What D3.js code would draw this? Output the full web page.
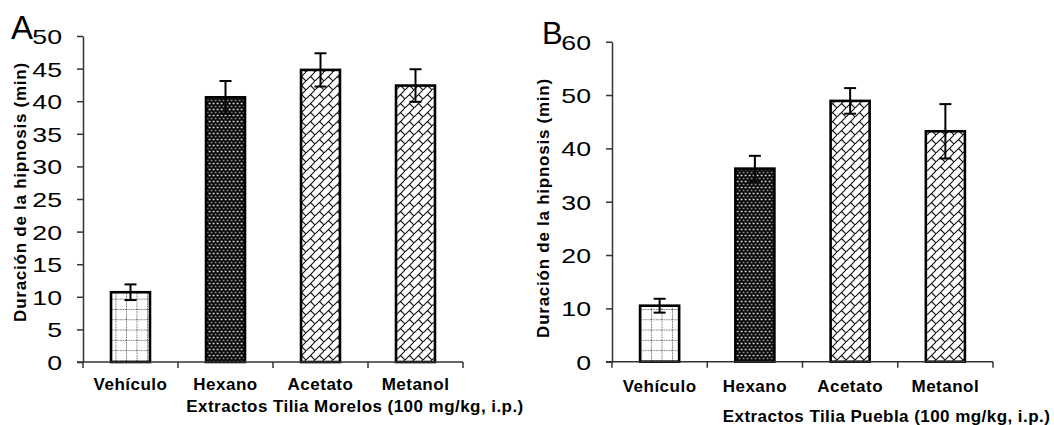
<!DOCTYPE html>
<html><head><meta charset="utf-8">
<script src="https://cdn.jsdelivr.net/npm/d3@7"></script>
<style>
html,body{margin:0;padding:0;background:#fff;}
svg{display:block;}
</style></head>
<body>
<svg id="chart" width="1054" height="425"></svg>
<script>
const categories = ["Vehículo", "Hexano", "Acetato", "Metanol"];
const morelosMeans = [10.7, 40.6, 44.8, 42.4];
const morelosErr = [1.2, 2.5, 2.55, 2.5];
const pueblaMeans = [10.5, 36.2, 48.9, 43.2];
const pueblaErr = [1.3, 2.4, 2.4, 5.1];
const ticksA = [0, 5, 10, 15, 20, 25, 30, 35, 40, 45, 50];
const ticksB = [0, 10, 20, 30, 40, 50, 60];
const yTitle = "Duración de la hipnosis (min)";
const xTitleA = "Extractos Tilia Morelos (100 mg/kg, i.p.)";
const xTitleB = "Extractos Tilia Puebla (100 mg/kg, i.p.)";
const fills = ["url(#pGrid)", "url(#pDots)", "url(#pBrick)", "url(#pBrick)"];

const svg = d3.select("#chart");
const defs = svg.append("defs");

// grid pattern (Vehículo)
const pg = defs.append("pattern").attr("id","pGrid").attr("patternUnits","userSpaceOnUse")
  .attr("width",10.5).attr("height",10.3);
pg.append("rect").attr("width",10.5).attr("height",10.3).attr("fill","#fff");
pg.append("line").attr("x1",0.5).attr("x2",0.5).attr("y1",0).attr("y2",10.3)
  .attr("stroke","#555").attr("stroke-width",1).attr("stroke-dasharray","1.2,1.2");
pg.append("line").attr("x1",0).attr("x2",10.5).attr("y1",0.5).attr("y2",0.5)
  .attr("stroke","#555").attr("stroke-width",1).attr("stroke-dasharray","1.2,1.2");

// dark dots pattern (Hexano)
const pd = defs.append("pattern").attr("id","pDots").attr("patternUnits","userSpaceOnUse")
  .attr("width",4).attr("height",6);
pd.append("rect").attr("width",4).attr("height",6).attr("fill","#000");
pd.append("rect").attr("x",0.6).attr("y",0.7).attr("width",2).attr("height",1.6).attr("fill","#d8d8d8");
pd.append("rect").attr("x",2.6).attr("y",3.7).attr("width",1.4).attr("height",1.6).attr("fill","#8a8a8a");
pd.append("rect").attr("x",0).attr("y",3.7).attr("width",0.6).attr("height",1.6).attr("fill","#8a8a8a");

// diagonal brick pattern (Acetato, Metanol)
const s = 9;
const pb = defs.append("pattern").attr("id","pBrick").attr("patternUnits","userSpaceOnUse")
  .attr("width",s).attr("height",s);
pb.append("rect").attr("width",s).attr("height",s).attr("fill","#fff");
pb.append("path").attr("d",`M-1,${s+1}L${s+1},-1 M${s/2},${s/2}L${s},${s} M${-s/2},${s/2}L0,${s}`)
  .attr("stroke","#111").attr("stroke-width",1.1).attr("fill","none");

function panel(cfg){
  const g = svg.append("g");
  const y = d3.scaleLinear().domain([0, cfg.yMax]).range([cfg.y0, cfg.y1]);
  const xb = d3.scaleBand().domain(categories).range([cfg.x0, cfg.x1])
    .paddingInner(0.59).paddingOuter(0.295);
  const xs = d3.scaleBand().domain(categories).range([cfg.x0, cfg.x1]).padding(0);

  // bars
  g.selectAll("rect.bar").data(categories).join("rect").attr("class","bar")
    .attr("x", d => xb(d)).attr("width", xb.bandwidth())
    .attr("y", (d,i) => y(cfg.means[i]))
    .attr("height", (d,i) => y(0) - y(cfg.means[i]))
    .attr("fill", (d,i) => fills[i])
    .attr("stroke","#000").attr("stroke-width",2.6);

  // error bars
  const eg = g.selectAll("g.err").data(categories).join("g").attr("class","err")
    .attr("stroke","#000").attr("stroke-width",2);
  eg.append("line")
    .attr("x1", d => xb(d) + xb.bandwidth()/2).attr("x2", d => xb(d) + xb.bandwidth()/2)
    .attr("y1", (d,i) => y(cfg.means[i] + cfg.errs[i]))
    .attr("y2", (d,i) => y(cfg.means[i] - cfg.errs[i]));
  [1,-1].forEach(sg => {
    eg.append("line")
      .attr("x1", d => xb(d) + xb.bandwidth()/2 - 6).attr("x2", d => xb(d) + xb.bandwidth()/2 + 6)
      .attr("y1", (d,i) => y(cfg.means[i] + sg*cfg.errs[i]))
      .attr("y2", (d,i) => y(cfg.means[i] + sg*cfg.errs[i]));
  });

  // y axis
  const ya = g.append("g").attr("transform",`translate(${cfg.x0},0)`)
    .call(d3.axisLeft(y).tickValues(cfg.ticks).tickSize(6).tickSizeOuter(0).tickPadding(0));
  ya.select(".domain").attr("stroke","#333").attr("stroke-width",1.5);
  ya.selectAll(".tick line").attr("stroke","#333").attr("stroke-width",1.5);
  ya.selectAll(".tick text")
    .attr("x",0).attr("dy","0.36em")
    .attr("transform","translate(-21,0) scale(1.27,1)")
    .attr("font-family","'Liberation Sans', Arial, sans-serif")
    .attr("font-size",21).attr("fill","#000");

  // x axis line and category ticks
  g.append("line").attr("x1", cfg.x0 - 6).attr("x2", cfg.x1)
    .attr("y1", y(0)).attr("y2", y(0)).attr("stroke","#333").attr("stroke-width",1.5);
  const bounds = categories.map(c => xs(c)).concat([cfg.x1]);
  g.selectAll("line.ct").data(bounds).join("line").attr("class","ct")
    .attr("x1", d => d).attr("x2", d => d).attr("y1", y(0)).attr("y2", y(0) + 6)
    .attr("stroke","#333").attr("stroke-width",1.5);

  // category labels
  g.selectAll("text.cat").data(categories).join("text").attr("class","cat")
    .attr("x", d => xs(d) + xs.bandwidth()/2).attr("y", cfg.catY)
    .attr("text-anchor","middle")
    .attr("font-family","'Liberation Sans', Arial, sans-serif")
    .attr("font-weight","bold").attr("font-size",17).attr("letter-spacing","0.5px")
    .text(d => d);

  // x title
  g.append("text").attr("x", (cfg.x0 + cfg.x1)/2 + cfg.xtOff).attr("y", cfg.xtY)
    .attr("text-anchor","middle")
    .attr("font-family","'Liberation Sans', Arial, sans-serif")
    .attr("font-weight","bold").attr("font-size",17).attr("letter-spacing","0.45px")
    .text(cfg.xTitle);

  // y title
  g.append("text").attr("transform",`translate(${cfg.ytX},${cfg.ytY}) rotate(-90)`)
    .attr("text-anchor","middle")
    .attr("font-family","'Liberation Sans', Arial, sans-serif")
    .attr("font-weight","bold").attr("font-size",17).attr("letter-spacing","0.75px")
    .text(yTitle);

  // panel letter
  g.append("text").attr("x", cfg.lx).attr("y", cfg.ly)
    .attr("font-family","'Liberation Sans', Arial, sans-serif")
    .attr("font-size", cfg.lsize).text(cfg.letter);
}

panel({x0:83, x1:463, y0:362, y1:36, yMax:50, ticks:ticksA,
  means:morelosMeans, errs:morelosErr, catY:390, xtY:412, xtOff:82,
  xTitle:xTitleA, ytX:26, ytY:192, letter:"A", lx:11, ly:39, lsize:33});
panel({x0:612, x1:993, y0:361.7, y1:41.7, yMax:60, ticks:ticksB,
  means:pueblaMeans, errs:pueblaErr, catY:392, xtY:422, xtOff:84,
  xTitle:xTitleB, ytX:549, ytY:208, letter:"B", lx:542, ly:44, lsize:31});
</script>
</body></html>
